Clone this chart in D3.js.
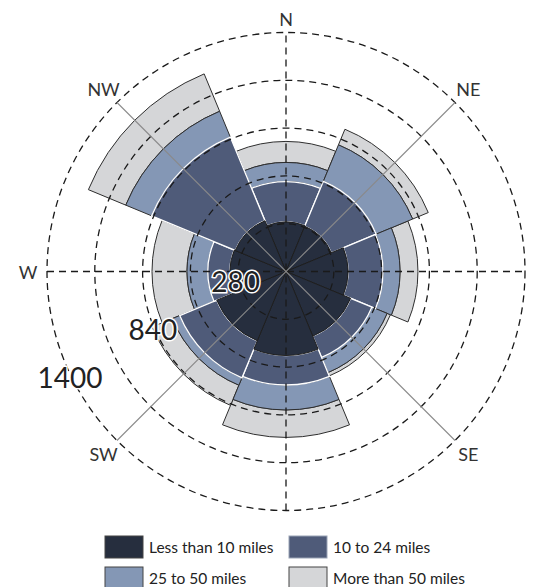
<!DOCTYPE html>
<html>
<head>
<meta charset="utf-8">
<script src="https://cdn.jsdelivr.net/npm/d3@7"></script>
<style>
  html, body { margin: 0; padding: 0; background: #fff; }
  svg { display: block; }
  text { font-family: Lato, "Open Sans", sans-serif; }
</style>
</head>
<body>
<svg id="chart" width="533" height="587"></svg>
<script>
// ---- data ----
const directions = ["N", "NE", "E", "SE", "S", "SW", "W", "NW"];
const lessThan10 = [290, 287, 363, 410, 492, 439, 328, 322];
const from10to24 = [237, 285, 205, 135, 173, 235, 129, 530];
const from25to50 = [112, 231, 100, 96, 146, 47, 123, 164];
const moreThan50 = [123, 99, 105, 21, 161, 128, 205, 237];
const seriesNames = ["Less than 10 miles", "10 to 24 miles", "25 to 50 miles", "More than 50 miles"];
const seriesColors = ["#262e3e", "#4f5b79", "#8497b5", "#d5d6d8"];
const seriesStrokes = ["#1e1e1e", "#ffffff", "#2e2e2e", "#2e2e2e"];
const gridTicks = [280, 560, 840, 1120, 1400];
const tickLabels = [280, 840, 1400];
// direction labels visible in the picture (E and S fall outside it)
const axisLabels = ["N", "NE", "SE", "SW", "W", "NW"];

// ---- layout ----
const cx = 286, cy = 271.5, R = 239;
const svg = d3.select("#chart");
svg.append("clipPath").attr("id", "clipArea")
  .append("rect").attr("x", 0).attr("y", 0).attr("width", 533).attr("height", 518);
const g = svg.append("g").attr("clip-path", "url(#clipArea)")
  .append("g").attr("transform", `translate(${cx},${cy})`);

const table = directions.map((d, i) => ({
  dir: d, s0: lessThan10[i], s1: from10to24[i], s2: from25to50[i], s3: moreThan50[i]
}));
const keys = ["s0", "s1", "s2", "s3"];
const stacked = d3.stack().keys(keys)(table);

const angle = d3.scaleBand().domain(directions)
  .range([-Math.PI / 8, 2 * Math.PI - Math.PI / 8]).paddingInner(0).paddingOuter(0);
const radius = d3.scaleLinear().domain([0, 1400]).range([0, R]);
const dirAngle = d => angle(d) + angle.bandwidth() / 2;

const arc = d3.arc()
  .innerRadius(d => radius(d[0]))
  .outerRadius(d => radius(d[1]))
  .startAngle(d => angle(d.data.dir))
  .endAngle(d => angle(d.data.dir) + angle.bandwidth());

// draw outer series first so inner series' strokes sit on top
for (let k = 3; k >= 0; k--) {
  g.append("g").selectAll("path").data(stacked[k]).join("path")
    .attr("d", arc)
    .attr("fill", seriesColors[k])
    .attr("stroke", seriesStrokes[k])
    .attr("stroke-width", k === 1 ? 1.3 : 1)
    .attr("stroke-linejoin", "miter");
}

// grid circles
g.append("g").selectAll("circle").data(gridTicks).join("circle")
  .attr("r", d => radius(d))
  .attr("fill", "none")
  .attr("stroke", "#1a1a1a")
  .attr("stroke-width", 1.3)
  .attr("stroke-dasharray", "7,5");

// axis lines: N-S and E-W dashed, diagonals solid grey
["N", "E"].forEach(d => {
  const a = dirAngle(d);
  g.append("line")
    .attr("x1", -R * Math.sin(a)).attr("y1", R * Math.cos(a))
    .attr("x2", R * Math.sin(a)).attr("y2", -R * Math.cos(a))
    .attr("stroke", "#1a1a1a").attr("stroke-width", 1.3)
    .attr("stroke-dasharray", "7,5");
});
["NE", "SE"].forEach(d => {
  const a = dirAngle(d);
  g.append("line")
    .attr("x1", -R * Math.sin(a)).attr("y1", R * Math.cos(a))
    .attr("x2", R * Math.sin(a)).attr("y2", -R * Math.cos(a))
    .attr("stroke", "#8a8a8a").attr("stroke-width", 1.1);
});

// direction labels
const labelR = 258;
g.append("g").selectAll("text").data(axisLabels).join("text")
  .attr("x", d => labelR * Math.sin(dirAngle(d)))
  .attr("y", d => {
    const c = Math.cos(dirAngle(d));
    return -labelR * c + (Math.abs(c) > 0.99 ? 5.5 * c : 0);
  })
  .attr("text-anchor", "middle")
  .attr("dominant-baseline", "central")
  .attr("font-size", 18)
  .attr("fill", "#333")
  .text(d => d);

// radial tick labels
const tickAngle = 240 * Math.PI / 180;
g.append("g").selectAll("text").data(tickLabels).join("text")
  .attr("x", d => radius(d) * Math.sin(tickAngle) - 9)
  .attr("y", d => -radius(d) * Math.cos(tickAngle) - 14.5)
  .attr("text-anchor", "middle")
  .attr("dominant-baseline", "central")
  .attr("font-size", 28)
  .attr("fill", "#222")
  .attr("stroke", "#fff")
  .attr("stroke-width", 3)
  .attr("paint-order", "stroke")
  .text(d => d);

// legend
const legend = svg.append("g");
const legX = [105, 289], legY = [536, 567];
seriesNames.forEach((name, k) => {
  const col = k % 2, row = Math.floor(k / 2);
  const item = legend.append("g").attr("transform", `translate(${legX[col]},${legY[row]})`);
  item.append("rect").attr("width", 38).attr("height", 22)
    .attr("fill", seriesColors[k])
    .attr("stroke", k === 1 ? "#9aa3b5" : "#444").attr("stroke-width", 1);
  item.append("text").attr("x", 44).attr("y", 11)
    .attr("dominant-baseline", "central")
    .attr("font-size", 15.5).attr("fill", "#222")
    .text(name);
});
</script>
</body>
</html>
